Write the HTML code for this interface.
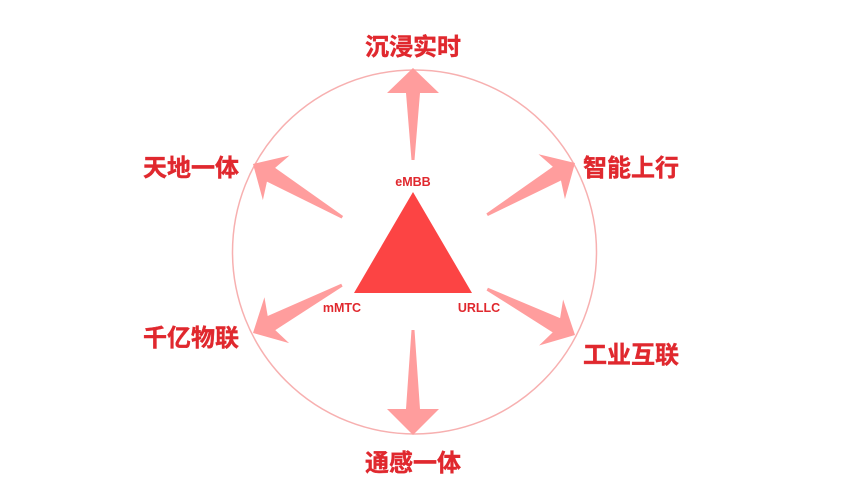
<!DOCTYPE html>
<html><head><meta charset="utf-8"><style>
html,body{margin:0;padding:0;background:#fff;}
</style></head><body>
<svg width="864" height="495" viewBox="0 0 864 495" xmlns="http://www.w3.org/2000/svg">
<circle cx="414.5" cy="252" r="182" fill="none" stroke="#f7b0b0" stroke-width="1.5"/>
<g fill="#ff9d9d">
<polygon points="411.5,160 406,93 387,93 413,68 439,93 420,93 414.5,160"/>
<polygon points="411.5,330 406,409 387,409 413,435 439,409 420,409 414.5,330"/>
<polygon transform="translate(253,164) rotate(30.8)" points="0,0 27,-26 21,-8 104,-1.5 104,1.5 21,8 27,26"/>
<polygon transform="translate(575,163) rotate(149.5)" points="0,0 27,-26 21,-8 102,-1.5 102,1.5 21,8 27,26"/>
<polygon transform="translate(253,333) rotate(-28.3)" points="0,0 27,-26 21,-8 101,-1.5 101,1.5 21,8 27,26"/>
<polygon transform="translate(575,335) rotate(-152.4)" points="0,0 27,-26 21,-8 99,-1.5 99,1.5 21,8 27,26"/>
</g>
<polygon points="413,192 472,293 354,293" fill="#fc4444"/>
<g font-family="Liberation Sans, Noto Sans CJK SC, sans-serif" font-weight="bold" fill="#e0282e" text-anchor="middle">
<text x="413" y="186" font-size="12.5">eMBB</text>
<text x="342" y="312" font-size="12.5">mMTC</text>
<text x="479" y="312" font-size="12.5">URLLC</text>
<g font-size="24" font-family="Noto Sans CJK SC, sans-serif" stroke="#e0282e" stroke-width="0.4">
<text x="413" y="55">沉浸实时</text>
<text x="191" y="176">天地一体</text>
<text x="631" y="176">智能上行</text>
<text x="191" y="346">千亿物联</text>
<text x="631" y="363">工业互联</text>
<text x="413" y="471">通感一体</text>
</g>
</g>
</svg>
</body></html>
